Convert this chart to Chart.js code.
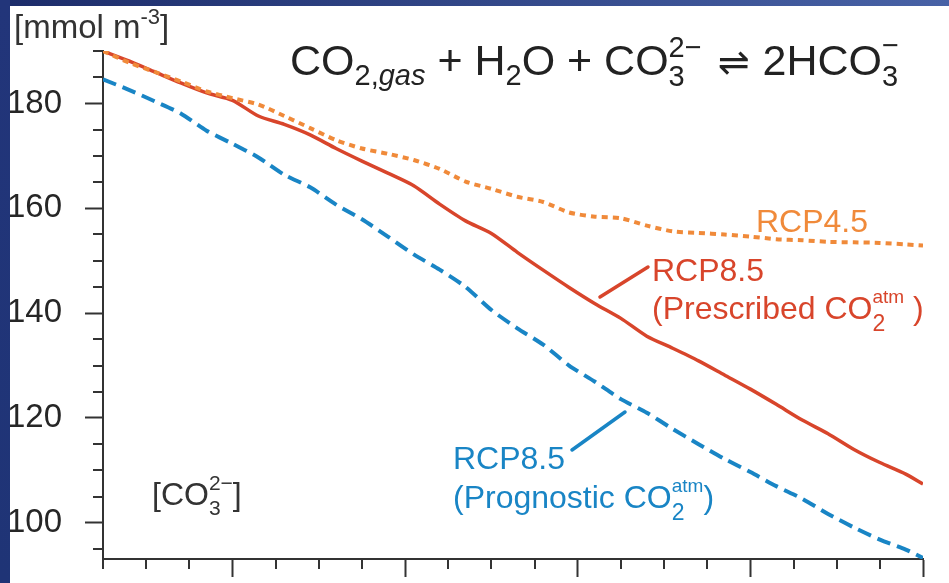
<!DOCTYPE html>
<html>
<head>
<meta charset="utf-8">
<script src="https://cdn.jsdelivr.net/npm/chart.js@4/dist/chart.umd.min.js"></script>
<style>
  html, body { margin: 0; padding: 0; background: #1f3272; }
  canvas { display: block; }
</style>
</head>
<body>
<canvas id="c" width="949" height="583"></canvas>
<script>
// Carbonate ion concentration [mmol m-3], 2005-2100
const years = [2005, 2008, 2011, 2014, 2017, 2020, 2023, 2026, 2029, 2032, 2035,
  2038, 2041, 2044, 2047, 2050, 2053, 2056, 2059, 2062, 2065, 2068, 2071, 2074,
  2077, 2080, 2083, 2086, 2089, 2092, 2095, 2098, 2100];

const rcp45 = [190.0, 187.8, 186.0, 184.2, 182.3, 181.0, 179.8, 177.6, 175.3, 173.0,
  171.4, 170.4, 169.2, 167.5, 165.1, 163.7, 162.2, 161.2, 159.2, 158.4, 158.1, 156.7,
  155.6, 155.3, 155.0, 154.6, 154.1, 153.9, 153.6, 153.5, 153.4, 153.1, 152.9];

const rcp85Prescribed = [190.0, 188.1, 186.0, 183.9, 182.0, 180.6, 177.6, 176.0, 174.0,
  171.4, 169.0, 166.7, 164.3, 160.8, 157.6, 155.2, 151.6, 148.2, 144.9, 141.8, 139.0,
  135.6, 133.3, 130.9, 128.2, 125.5, 122.6, 119.6, 117.0, 114.0, 111.5, 109.3, 107.4];

const rcp85Prognostic = [184.6, 182.6, 180.4, 178.1, 174.8, 172.3, 169.7, 166.4, 164.0,
  160.7, 157.9, 154.6, 151.2, 148.3, 145.0, 140.6, 137.1, 134.0, 130.0, 126.9, 123.6,
  121.0, 117.9, 115.0, 112.2, 109.7, 107.0, 104.6, 101.7, 99.1, 96.8, 94.9, 93.3];

const yMajorTicks = [100, 120, 140, 160, 180];
const yMinorStep = 5;
const xMajorTicks = [2020, 2040, 2060, 2080, 2100];
const xMinorStep = 5;

const FONT = '"Liberation Sans", Arial, "DejaVu Sans", sans-serif';
const AXIS_COLOR = '#333333';
const ORANGE = '#f08a3a';
const RED = '#d8452b';
const BLUE = '#1985c5';

const toPoints = (vals) => years.map((y, i) => ({ x: y, y: vals[i] }));

// Draws a run of text pieces (with sub/superscripts) starting at x, baseline y
function drawRich(ctx, parts, x, y, color) {
  ctx.save();
  ctx.fillStyle = color;
  ctx.textBaseline = 'alphabetic';
  ctx.textAlign = 'left';
  let cx = x;
  for (const p of parts) {
    if (p.gap) { cx += p.gap; continue; }
    if (p.stack) {
      let w = 0;
      for (const q of p.stack) {
        ctx.font = (q.it ? 'italic ' : '') + q.s + 'px ' + FONT;
        ctx.fillText(q.t, cx, y + (q.dy || 0));
        w = Math.max(w, ctx.measureText(q.t).width);
      }
      cx += w;
      continue;
    }
    ctx.font = (p.it ? 'italic ' : '') + p.s + 'px ' + FONT;
    ctx.fillText(p.t, cx, y + (p.dy || 0));
    cx += ctx.measureText(p.t).width;
  }
  ctx.restore();
}

function paintFrame(ctx, width, height) {
  const gl = ctx.createLinearGradient(0, 0, 0, height);
  gl.addColorStop(0, '#22357a');
  gl.addColorStop(1, '#1f3476');
  ctx.fillStyle = gl;
  ctx.fillRect(0, 0, 10, height);
}

const backdrop = {
  id: 'backdrop',
  beforeDraw(chart) {
    const { ctx, width, height } = chart;
    ctx.save();
    const g = ctx.createLinearGradient(0, 0, width, 0);
    g.addColorStop(0, '#1c2c6a');
    g.addColorStop(1, '#4862a6');
    ctx.fillStyle = g;
    ctx.fillRect(0, 0, width, height);
    ctx.fillStyle = '#ffffff';
    ctx.fillRect(10, 6, width - 10, height - 6);
    ctx.restore();
  },
  afterDraw(chart) {
    const { ctx, width, height } = chart;
    ctx.save();
    paintFrame(ctx, width, height);
    ctx.restore();
  }
};

const minorTicks = {
  id: 'minorTicks',
  afterDraw(chart) {
    const { ctx } = chart;
    const ys = chart.scales.y, xs = chart.scales.x;
    ctx.save();
    ctx.strokeStyle = AXIS_COLOR;
    ctx.lineWidth = 2;
    ctx.beginPath();
    for (let v = 95; v <= 190; v += yMinorStep) {
      if (yMajorTicks.includes(v)) continue;
      const py = Math.round(ys.getPixelForValue(v));
      ctx.moveTo(ys.right - 10, py);
      ctx.lineTo(ys.right, py);
    }
    for (let v = 2005; v <= 2100; v += xMinorStep) {
      if (xMajorTicks.includes(v)) continue;
      const px = Math.round(xs.getPixelForValue(v));
      ctx.moveTo(px, xs.top);
      ctx.lineTo(px, xs.top + 10);
    }
    ctx.stroke();
    ctx.restore();
  }
};

const annotations = {
  id: 'annotations',
  afterDraw(chart) {
    const { ctx } = chart;
    // unit label
    drawRich(ctx, [
      { t: '[mmol m', s: 33 },
      { t: '-3', s: 22, dy: -14 },
      { t: ']', s: 33 }
    ], 14, 38, '#333333');

    // reaction equation
    drawRich(ctx, [
      { t: 'CO', s: 43 },
      { t: '2,', s: 29, dy: 10 },
      { t: 'gas', s: 29, dy: 10, it: true },
      { t: ' + ', s: 43 },
      { t: 'H', s: 43 },
      { t: '2', s: 29, dy: 10 },
      { t: 'O', s: 43 },
      { t: ' + ', s: 43 },
      { t: 'CO', s: 43 },
      { stack: [{ t: '3', s: 29, dy: 11 }, { t: '2\u2212', s: 29, dy: -18 }] },
      { gap: 16 },
      { t: '\u21CC', s: 38 },
      { gap: 13 },
      { t: '2HCO', s: 43 },
      { stack: [{ t: '3', s: 29, dy: 11 }, { t: '\u2212', s: 29, dy: -20 }] }
    ], 290, 75, '#222222');

    // species label
    drawRich(ctx, [
      { t: '[CO', s: 32 },
      { stack: [{ t: '3', s: 21, dy: 10 }, { t: '2\u2212', s: 21, dy: -15 }] },
      { t: ']', s: 32 }
    ], 152, 505, '#333333');

    // series labels
    drawRich(ctx, [{ t: 'RCP4.5', s: 32 }], 756, 232, ORANGE);
    drawRich(ctx, [{ t: 'RCP8.5', s: 32 }], 652, 281, RED);
    drawRich(ctx, [
      { t: '(Prescribed CO', s: 32 },
      { stack: [{ t: '2', s: 23, dy: 12 }, { t: 'atm', s: 19, dy: -16 }] },
      { t: ' )', s: 32 }
    ], 652, 319, RED);
    drawRich(ctx, [{ t: 'RCP8.5', s: 32 }], 453, 469, BLUE);
    drawRich(ctx, [
      { t: '(Prognostic CO', s: 32 },
      { stack: [{ t: '2', s: 23, dy: 12 }, { t: 'atm', s: 19, dy: -16 }] },
      { t: ')', s: 32 }
    ], 453, 508, BLUE);

    // leader lines
    ctx.save();
    ctx.lineWidth = 3.5;
    ctx.lineCap = 'round';
    ctx.strokeStyle = RED;
    ctx.beginPath(); ctx.moveTo(600, 297); ctx.lineTo(648, 267); ctx.stroke();
    ctx.strokeStyle = BLUE;
    ctx.beginPath(); ctx.moveTo(572, 450); ctx.lineTo(625, 412); ctx.stroke();
    ctx.restore();
  }
};

new Chart(document.getElementById('c'), {
  type: 'line',
  data: {
    datasets: [
      {
        label: 'RCP4.5',
        data: toPoints(rcp45),
        borderColor: ORANGE,
        borderWidth: 4,
        borderDash: [6, 5],
        tension: 0.25,
        pointRadius: 0,
        order: 0
      },
      {
        label: 'RCP8.5 (Prescribed)',
        data: toPoints(rcp85Prescribed),
        borderColor: RED,
        borderWidth: 3.5,
        tension: 0.25,
        pointRadius: 0,
        order: 1
      },
      {
        label: 'RCP8.5 (Prognostic)',
        data: toPoints(rcp85Prognostic),
        borderColor: BLUE,
        borderWidth: 4,
        borderDash: [14, 7],
        tension: 0.25,
        pointRadius: 0,
        order: 2
      }
    ]
  },
  options: {
    responsive: false,
    devicePixelRatio: 1,
    animation: false,
    layout: { padding: { left: 0, right: 26, top: 51, bottom: 0 } },
    plugins: { legend: { display: false }, tooltip: { enabled: false } },
    scales: {
      x: {
        type: 'linear',
        min: 2005,
        max: 2100,
        afterBuildTicks: (s) => { s.ticks = xMajorTicks.map(v => ({ value: v })); },
        afterFit: (s) => { s.height = 24; s.paddingLeft = 0; s.paddingRight = 0; },
        ticks: { display: false },
        grid: { drawOnChartArea: false, tickLength: 18, tickColor: AXIS_COLOR, tickWidth: 2 },
        border: { color: AXIS_COLOR, width: 2 }
      },
      y: {
        type: 'linear',
        min: 93.1,
        max: 190,
        afterBuildTicks: (s) => { s.ticks = yMajorTicks.map(v => ({ value: v })); },
        afterFit: (s) => { s.width = 103; s.paddingTop = 0; s.paddingBottom = 0; },
        ticks: {
          color: '#262626',
          padding: 23,
          font: { family: FONT, size: 33 }
        },
        grid: { drawOnChartArea: false, tickLength: 18, tickColor: AXIS_COLOR, tickWidth: 2 },
        border: { color: AXIS_COLOR, width: 2 }
      }
    }
  },
  plugins: [backdrop, minorTicks, annotations]
});
</script>
</body>
</html>
